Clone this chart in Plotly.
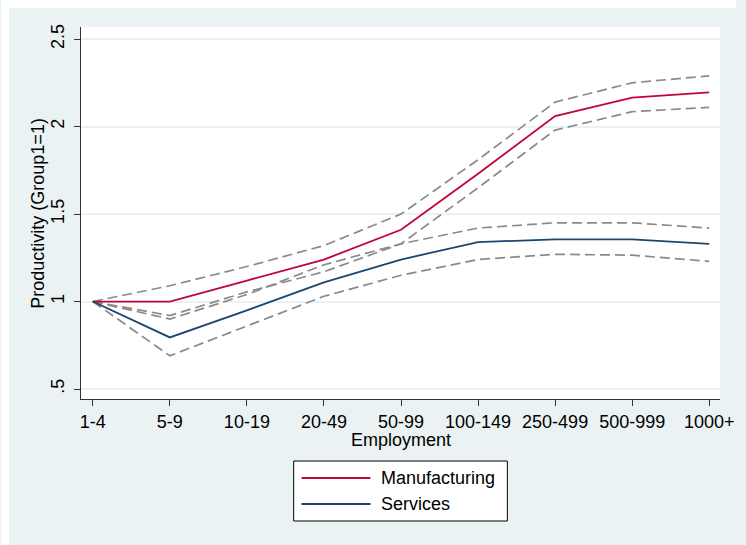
import plotly.graph_objects as go

# Employment size classes
categories = ["1-4", "5-9", "10-19", "20-49", "50-99", "100-149", "250-499", "500-999", "1000+"]

# Relative productivity (size class 1-4 = 1) with confidence bands
manufacturing = [1.0, 1.0, 1.12, 1.24, 1.41, 1.73, 2.06, 2.165, 2.195]
manufacturing_hi = [1.0, 1.09, 1.20, 1.32, 1.50, 1.81, 2.14, 2.25, 2.29]
manufacturing_lo = [1.0, 0.92, 1.055, 1.17, 1.33, 1.65, 1.98, 2.085, 2.11]

services = [1.0, 0.795, 0.95, 1.11, 1.24, 1.34, 1.355, 1.355, 1.33]
services_hi = [1.0, 0.90, 1.04, 1.21, 1.33, 1.42, 1.45, 1.45, 1.42]
services_lo = [1.0, 0.69, 0.86, 1.03, 1.15, 1.24, 1.27, 1.265, 1.23]

y_ticks = [0.5, 1, 1.5, 2, 2.5]
y_tick_labels = [".5", "1", "1.5", "2", "2.5"]

series_names = ["Manufacturing", "Services"]
series_colors = ["#c10534", "#1a476f"]
ci_color = "#8a8a8a"
bg_color = "#eaf2f3"
font_family = "Liberation Sans, Arial, sans-serif"
fs = 18

x = list(range(len(categories)))

fig = go.Figure()

# confidence bands first so the point estimates sit on top
for band in [manufacturing_hi, manufacturing_lo, services_hi, services_lo]:
    fig.add_trace(go.Scatter(
        x=x, y=band, mode="lines",
        line=dict(color=ci_color, width=1.7, dash="10px,5px"),
        showlegend=False, hoverinfo="skip",
    ))

for name, vals, col in zip(series_names, [manufacturing, services], series_colors):
    fig.add_trace(go.Scatter(
        x=x, y=vals, mode="lines", name=name,
        line=dict(color=col, width=1.8),
        showlegend=False,
    ))

W, H = 746, 545
ml, mr, mt, mb = 81, 16, 27, 146
pw, ph = W - ml - mr, H - mt - mb

def px_x(p):
    return (p - ml) / pw

def px_y(p):
    return (H - mb - p) / ph

shapes = [
    # white outer margin strips (left and top)
    dict(type="rect", xref="paper", yref="paper", layer="below",
         x0=px_x(0), x1=px_x(8), y0=px_y(H), y1=px_y(0),
         fillcolor="white", line=dict(width=0)),
    dict(type="rect", xref="paper", yref="paper", layer="below",
         x0=px_x(0), x1=px_x(W), y0=px_y(8), y1=px_y(0),
         fillcolor="white", line=dict(width=0)),
    # legend box
    dict(type="rect", xref="paper", yref="paper",
         x0=px_x(297), x1=px_x(514), y0=px_y(521), y1=px_y(461),
         fillcolor="white", line=dict(color="black", width=1)),
]

annotations = [
    dict(text="Productivity (Group1=1)", xref="paper", yref="paper",
         x=px_x(37), y=0.5, textangle=-90, showarrow=False,
         xanchor="center", yanchor="middle",
         font=dict(family=font_family, size=fs, color="black")),
    dict(text="Employment", xref="paper", yref="paper",
         x=0.5, y=px_y(440), showarrow=False,
         xanchor="center", yanchor="middle",
         font=dict(family=font_family, size=fs, color="black")),
]

legend_rows = [478, 504]
for name, col, ry in zip(series_names, series_colors, legend_rows):
    shapes.append(dict(type="line", xref="paper", yref="paper",
                       x0=px_x(305), x1=px_x(375), y0=px_y(ry), y1=px_y(ry),
                       line=dict(color=col, width=1.8)))
    annotations.append(dict(text=name, xref="paper", yref="paper",
                            x=px_x(384), y=px_y(ry), showarrow=False,
                            xanchor="left", yanchor="middle",
                            font=dict(family=font_family, size=fs, color="black")))

fig.update_layout(
    width=W, height=H,
    margin=dict(l=ml, r=mr, t=mt, b=mb, pad=0),
    paper_bgcolor=bg_color,
    plot_bgcolor="white",
    showlegend=False,
    shapes=shapes,
    annotations=annotations,
    font=dict(family=font_family, size=fs, color="black"),
    xaxis=dict(
        range=[-0.153, 8.14],
        tickmode="array", tickvals=x, ticktext=categories,
        showgrid=False, zeroline=False,
        showline=True, linecolor="#333333", linewidth=1.2,
        ticks="outside", ticklen=6, tickwidth=1.2, tickcolor="#333333",
        tickfont=dict(family=font_family, size=fs, color="black"),
    ),
    yaxis=dict(
        range=[0.443, 2.569],
        tickmode="array", tickvals=y_ticks, ticktext=y_tick_labels,
        tickangle=-90, ticklabelstandoff=3,
        showgrid=True, gridcolor=bg_color, gridwidth=1.5,
        zeroline=False,
        showline=True, linecolor="#333333", linewidth=1.2,
        ticks="outside", ticklen=6, tickwidth=1.2, tickcolor="#333333",
        tickfont=dict(family=font_family, size=fs, color="black"),
    ),
)

fig.write_html("out.html")
